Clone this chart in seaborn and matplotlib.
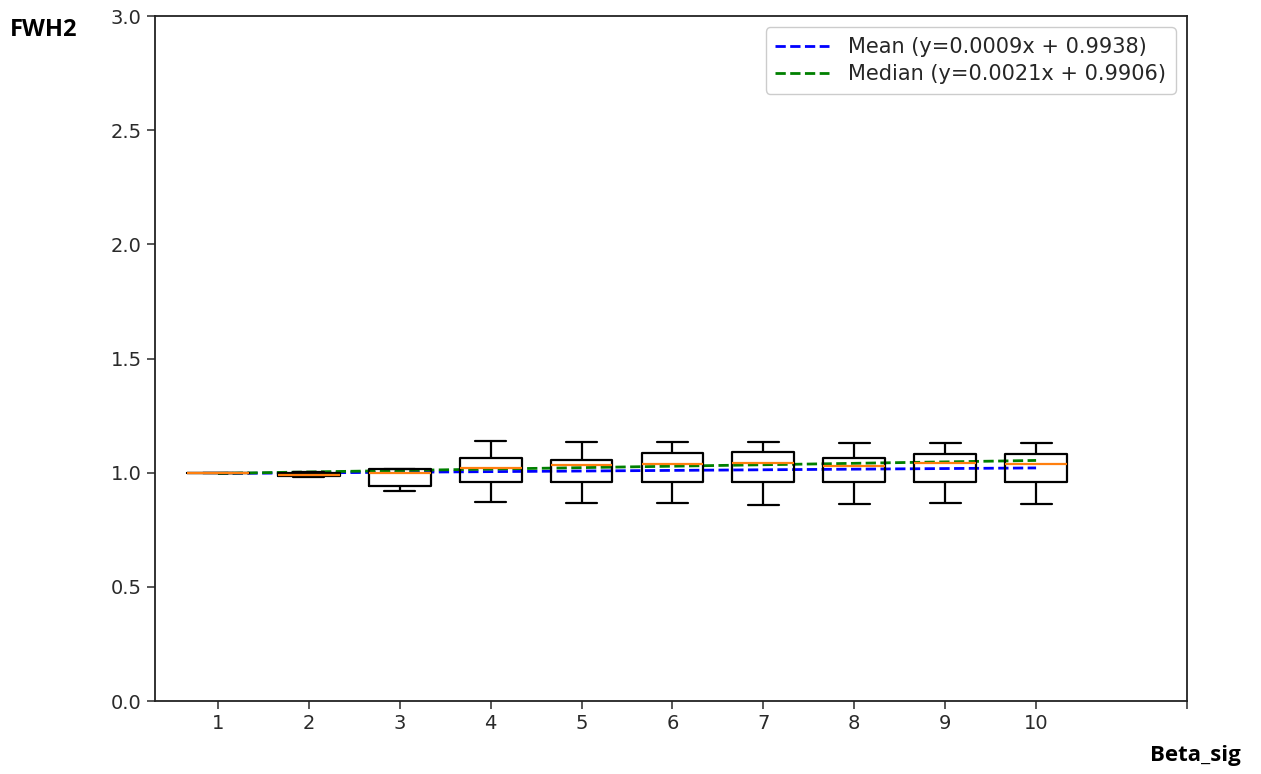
import pandas as pd
import matplotlib.pyplot as plt
import numpy as np
import seaborn as sns

# five-number summary of each box
positions = [1, 2, 3, 4, 5, 6, 7, 8, 9, 10]
beta_sig = [3, 6, 9, 12, 15, 18, 21, 24, 27, 30]  # x used for the fitted lines
lows = [1.0, 0.980, 0.920, 0.872, 0.869, 0.869, 0.860, 0.861, 0.869, 0.861]
q1s = [1.0, 0.985, 0.943, 0.959, 0.958, 0.958, 0.958, 0.958, 0.958, 0.958]
meds = [1.0, 0.990, 0.997, 1.019, 1.032, 1.037, 1.044, 1.029, 1.044, 1.038]
q3s = [1.0, 1.000, 1.015, 1.064, 1.056, 1.085, 1.089, 1.063, 1.083, 1.083]
highs = [1.0, 1.005, 1.017, 1.139, 1.133, 1.134, 1.134, 1.129, 1.129, 1.129]

# fitted trend lines from the legend
mean_slope, mean_icpt = 0.0009, 0.9938
median_slope, median_icpt = 0.0021, 0.9906

rows = []
for p, lo, a, m, c, hi in zip(positions, lows, q1s, meds, q3s, highs):
    for v in (lo, a, m, c, hi):
        rows.append({"pos": p, "fwh2": v})
data = pd.DataFrame(rows)

bs = np.array(beta_sig)
mean_line = mean_slope * bs + mean_icpt
median_line = median_slope * bs + median_icpt

sns.set_style('ticks')
plt.rcParams['font.family'] = ['DejaVu Sans']

fig = plt.figure(figsize=(12.61, 7.74), dpi=100)
ax = fig.add_axes([0.1229, 0.0943, 0.8184, 0.885])

sns.lineplot(x=positions, y=mean_line, color='blue', linestyle='--', linewidth=2.0,
             label='Mean (y={}x + {})'.format(mean_slope, mean_icpt), ax=ax, zorder=1.5)
sns.lineplot(x=positions, y=median_line, color='green', linestyle='--', linewidth=2.0,
             label='Median (y={}x + {})'.format(median_slope, median_icpt), ax=ax, zorder=1.5)

sns.boxplot(data=data, x='pos', y='fwh2', native_scale=True, width=0.68,
            fill=False, color='black', linewidth=1.6, whis=1.5,
            medianprops={'color': '#ff7f0e', 'linewidth': 1.6},
            showfliers=False, ax=ax)

ax.set_xlim(0.307, 11.66)
ax.set_ylim(0, 3.0)
ax.set_xticks(positions + [11.66])
ax.set_xticklabels([str(p) for p in positions] + [''])
ax.set_yticks(np.arange(0, 3.01, 0.5))
ax.tick_params(labelsize=14, length=6, width=1.1, colors='#2a2a2a')
for s in ax.spines.values():
    s.set_visible(True)
    s.set_linewidth(1.3)
    s.set_color('#222222')
ax.set_xlabel('')
ax.set_ylabel('')

leg = ax.legend(loc='upper right', fontsize=15, handlelength=2.6,
                handletextpad=0.9, borderpad=0.45, labelspacing=0.35,
                borderaxespad=0.55, framealpha=1)
leg.get_frame().set_edgecolor('#cccccc')

fig.text(10 / 1261, 1 - 30 / 774, 'FWH2', fontsize=17, fontweight='bold',
         family='Open Sans', color='black', va='center', ha='left')
fig.text(1195 / 1261, 1 - 756 / 774, 'Beta_sig', fontsize=16, fontweight='bold',
         family='Open Sans', color='black', va='center', ha='center')

fig.savefig('out.png', dpi=100)
